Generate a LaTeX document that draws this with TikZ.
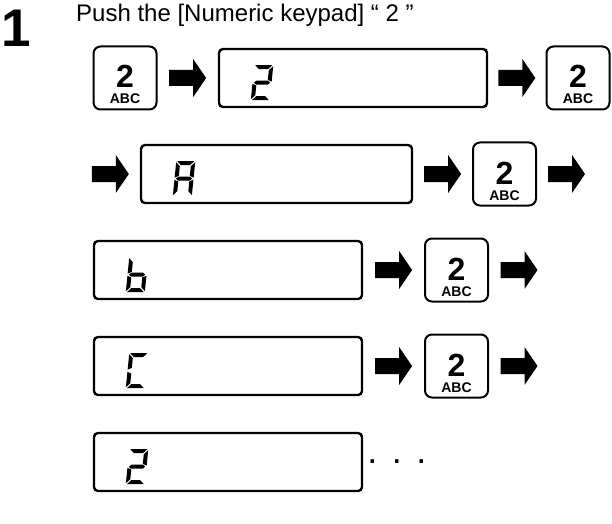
\documentclass[tikz,border=0pt]{standalone}
\usepackage{fontspec}
\setmainfont{Liberation Sans}
\usetikzlibrary{calc}
\tikzset{
  keybox/.style={draw, line width=2pt, rounded corners=7pt, minimum width=63pt, minimum height=63pt, inner sep=0pt},
  lcdbox/.style={draw, line width=2.4pt, rounded corners=4pt, minimum height=58pt, inner sep=0pt},
  keynum/.style={font=\bfseries\fontsize{32}{32}\selectfont, inner sep=0pt, anchor=base},
  keyabc/.style={font=\bfseries\fontsize{14}{14}\selectfont, inner sep=0pt, anchor=base},
  lcdfill/.style={fill=black},
  blockarrow/.pic={\fill (-18.5,-8) -- (5.5,-8) -- (5.5,-19) -- (18.5,0) -- (5.5,19) -- (5.5,8) -- (-18.5,8) -- cycle;}
}
\newcommand\keycap[2]{%
  \node[keybox] (#1) at (#2) {};
  \node[keynum] (#1n) at ($(#1.center)+(0,-10)$) {2};
  \node[keyabc] (#1l) at ($(#1.center)+(0,-26)$) {ABC};
}
% seven-segment pieces (glyph box 19 x 35)
\newcommand\lsA{\fill[lcdfill] (1,35) -- (18,35) -- (14,31) -- (5,31) -- cycle;}
\newcommand\lsD{\fill[lcdfill] (1,0) -- (18,0) -- (14,4) -- (5,4) -- cycle;}
\newcommand\lsG{\fill[lcdfill] (1.4,17.5) -- (3.6,19.5) -- (15.4,19.5) -- (17.6,17.5) -- (15.4,15.5) -- (3.6,15.5) -- cycle;}
\newcommand\lsF{\fill[lcdfill] (0,34) -- (4,30) -- (4,20.3) -- (0,18.6) -- cycle;}
\newcommand\lsE{\fill[lcdfill] (0,1) -- (4,5) -- (4,14.7) -- (0,16.4) -- cycle;}
\newcommand\lsB{\fill[lcdfill] (19,34) -- (15,30) -- (15,20.3) -- (19,18.6) -- cycle;}
\newcommand\lsC{\fill[lcdfill] (19,1) -- (15,5) -- (15,14.7) -- (19,16.4) -- cycle;}
\newcommand\lcdglyph[2]{\begin{scope}[shift={($(#1.south west)+(33,8)$)}, xslant=0.1]#2\end{scope}}
\begin{document}
\begin{tikzpicture}[x=1pt,y=1pt]
\useasboundingbox (0,0) rectangle (612,523);
% heading
\node[font=\bfseries\fontsize{53}{53}\selectfont, anchor=base west, inner sep=0pt] (stepno) at (1,476) {1};
\node[font=\fontsize{24}{28}\selectfont, anchor=base west, inner sep=0pt] (title) at (76,501) {Push the [Numeric keypad] “ 2 ”};
% row 1
\keycap{K1}{125,445}
\node[lcdbox, minimum width=268pt] (D1) at (353,445) {};
\keycap{K2}{578,445}
\pic at ($(K1.east)!0.5!(D1.west)$) {blockarrow};
\pic at ($(D1.east)!0.5!(K2.west)$) {blockarrow};
\lcdglyph{D1}{\lsA\lsB\lsG\lsE\lsD}
% row 2
\node[lcdbox, minimum width=271pt] (D2) at (276.5,349) {};
\keycap{K3}{504.5,349}
\pic at ($(D2.west)+(-29.5,0)$) {blockarrow};
\pic at ($(D2.east)!0.5!(K3.west)$) {blockarrow};
\pic at ($(K3.east)+(29.5,0)$) {blockarrow};
\lcdglyph{D2}{\lsA\lsB\lsC\lsE\lsF\lsG}
% row 3
\node[lcdbox, minimum width=268pt] (D3) at (228,253) {};
\keycap{K4}{456.5,253}
\pic at ($(D3.east)!0.5!(K4.west)$) {blockarrow};
\pic at ($(K4.east)+(30,0)$) {blockarrow};
\lcdglyph{D3}{\lsF\lsE\lsG\lsC\lsD}
% row 4
\node[lcdbox, minimum width=268pt] (D4) at (228,157) {};
\keycap{K5}{456.5,157}
\pic at ($(D4.east)!0.5!(K5.west)$) {blockarrow};
\pic at ($(K5.east)+(30,0)$) {blockarrow};
\lcdglyph{D4}{\lsA\lsF\lsE\lsD}
% row 5
\node[lcdbox, minimum width=268pt] (D5) at (228,61) {};
\lcdglyph{D5}{\lsA\lsB\lsG\lsE\lsD}
\node[font=\fontsize{36}{36}\selectfont, anchor=base west, inner sep=0pt] (dots) at ($(D5.east)+(4,-1.8)$) {.\hspace{14.5pt}.\hspace{14.5pt}.};
\end{tikzpicture}
\end{document}
